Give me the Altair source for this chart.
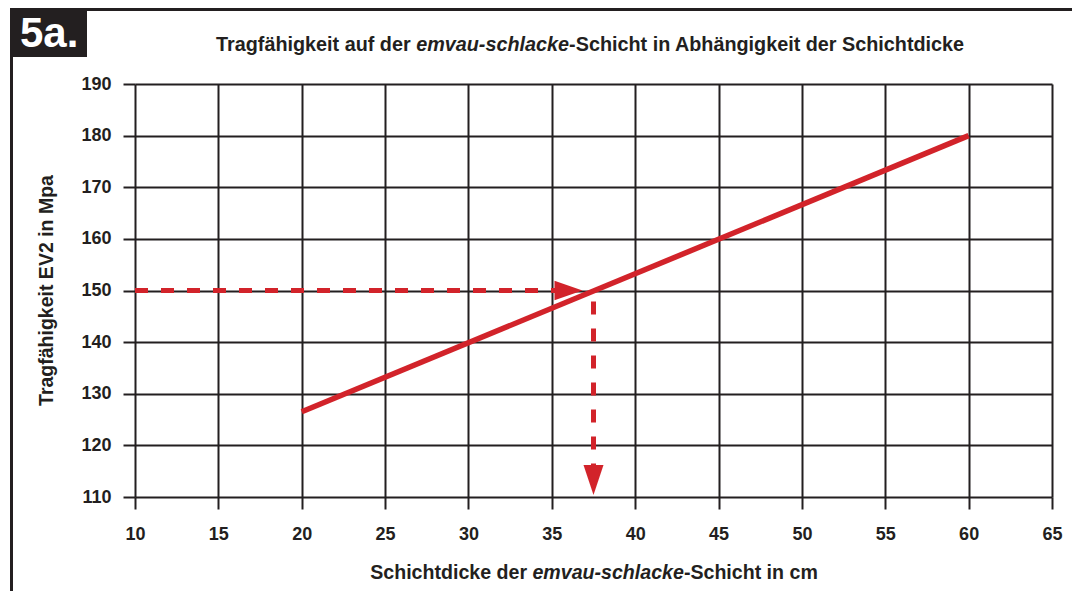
import altair as alt
import pandas as pd

# ---- data ----
x_ticks = [10, 15, 20, 25, 30, 35, 40, 45, 50, 55, 60, 65]
y_ticks = [110, 120, 130, 140, 150, 160, 170, 180, 190]

line_x = [20, 60]
line_y = [126.5, 180]

hdash_x = [10, 35.2]
hdash_y = [150, 150]
vdash_x = [37.5, 37.5]
vdash_y = [150, 116.2]

harrow_x = [36.0]
harrow_y = [150]
varrow_x = [37.5]
varrow_y = [113.3]

title_a = "Tragfähigkeit auf der"
title_b = "emvau-schlacke"
title_c = "-Schicht in Abhängigkeit der Schichtdicke"
xt_a = "Schichtdicke der"
xt_b = "emvau-schlacke"
xt_c = "-Schicht in cm"
y_title = "Tragfähigkeit EV2 in Mpa"
badge = "5a."

# ---- style ----
RED = "#D2232A"
INK = "#231F20"
FONT = "Liberation Sans"
W, H = 917, 413
PAD_L, PAD_T = 127, 76
PAD_R, PAD_B = 1064 - PAD_L - W, 583 - PAD_T - H
TF = 19.8  # title font size
XTF = 19.6
TICKF = 18
SPACE_EM = 0.278

xs = alt.Scale(domain=[10, 65], nice=False, zero=False)
ys = alt.Scale(domain=[110, 190], nice=False, zero=False)
xaxis = alt.Axis(values=x_ticks, grid=True, gridColor=INK, gridWidth=2, gridOpacity=1,
                 tickSize=12, tickWidth=2, tickColor=INK, domain=False,
                 labelFont=FONT, labelFontSize=TICKF, labelFontWeight="bold",
                 labelColor=INK, labelPadding=16, labelFlush=False, title=None)
yaxis = alt.Axis(values=y_ticks, grid=True, gridColor=INK, gridWidth=2, gridOpacity=1,
                 tickSize=12, tickWidth=2, tickColor=INK, domain=False,
                 labelFont=FONT, labelFontSize=TICKF, labelFontWeight="bold",
                 labelColor=INK, labelPadding=12, labelFlush=False, title=None)


def X():
    return alt.X("x:Q", scale=xs, axis=xaxis)


def Y():
    return alt.Y("y:Q", scale=ys, axis=yaxis)


main = alt.Chart(pd.DataFrame({"x": line_x, "y": line_y})).mark_line(
    color=RED, strokeWidth=5.5, strokeCap="butt").encode(x=X(), y=Y())

hdash = alt.Chart(pd.DataFrame({"x": hdash_x, "y": hdash_y})).mark_line(
    color=RED, strokeWidth=5, strokeDash=[13, 13], strokeCap="butt").encode(x=X(), y=Y())

vdash = alt.Chart(pd.DataFrame({"x": vdash_x, "y": vdash_y})).mark_line(
    color=RED, strokeWidth=5, strokeDash=[13, 14], strokeDashOffset=16,
    strokeCap="butt").encode(x=X(), y=Y())

harrow = alt.Chart(pd.DataFrame({"x": harrow_x, "y": harrow_y})).mark_point(
    shape="M-1,-0.7L1,0L-1,0.7Z", size=784, filled=True, color=RED,
    opacity=1, strokeWidth=0).encode(x=X(), y=Y())

varrow = alt.Chart(pd.DataFrame({"x": varrow_x, "y": varrow_y})).mark_point(
    shape="M-0.667,-1L0.667,-1L0,1Z", size=900, filled=True, color=RED,
    opacity=1, strokeWidth=0).encode(x=X(), y=Y())

one = pd.DataFrame({"k": [0]})


def txt(s, x, y, align="left", italic=False, size=TF, color=INK, angle=0,
        baseline="alphabetic"):
    kw = dict(font=FONT, fontSize=size, fontWeight="bold", color=color,
              align=align, baseline=baseline)
    if italic:
        kw["fontStyle"] = "italic"
    if angle:
        kw["angle"] = angle
    return alt.Chart(one).mark_text(**kw).encode(
        x=alt.value(x), y=alt.value(y), text=alt.value(s))


def rect(x, x2, y, y2, color=INK):
    return alt.Chart(one).mark_rect(color=color, opacity=1).encode(
        x=alt.value(x), x2=alt.value(x2), y=alt.value(y), y2=alt.value(y2))


# mixed-style titles (Arial/Liberation metrics, em widths)
EM_A, EM_B, EM_C = 10.169, 7.726, 20.005
t_center = 590 - 135
t_start = t_center - (EM_A + EM_B + EM_C) * TF / 2
ta = t_start + EM_A * TF
tc = ta + EM_B * TF
TY = -33

XEM_A, XEM_B, XEM_C = 8.281, 7.726, 6.835
x_center = 594 - 135
x_start = x_center - (XEM_A + XEM_B + XEM_C) * XTF / 2
xa = x_start + XEM_A * XTF
xc = xa + XEM_B * XTF
XY = 495

deco = [
    rect(-125, 937, -76, -73),
    rect(-125, -122, -76, 507),
    rect(-125, -48, -76, -27),
    txt(badge, -115, -37, size=42, color="white"),
    txt(title_a, ta - SPACE_EM * TF, TY, align="right"),
    txt(title_b, ta, TY, italic=True),
    txt(title_c, tc, TY),
    txt(xt_a, xa - SPACE_EM * XTF, XY, align="right", size=XTF),
    txt(xt_b, xa, XY, italic=True, size=XTF),
    txt(xt_c, xc, XY, size=XTF),
    txt(y_title, -88, H / 2, align="center", angle=270, baseline="middle", size=19.5),
]

chart = alt.layer(hdash, vdash, main, harrow, varrow, *deco).properties(
    width=W, height=H,
    autosize=alt.AutoSizeParams(type="none"),
    padding={"left": PAD_L, "top": PAD_T, "right": PAD_R, "bottom": PAD_B},
    background="white",
).configure_view(stroke=None)

chart.save("out.html", embed_options={"renderer": "svg", "actions": False})
